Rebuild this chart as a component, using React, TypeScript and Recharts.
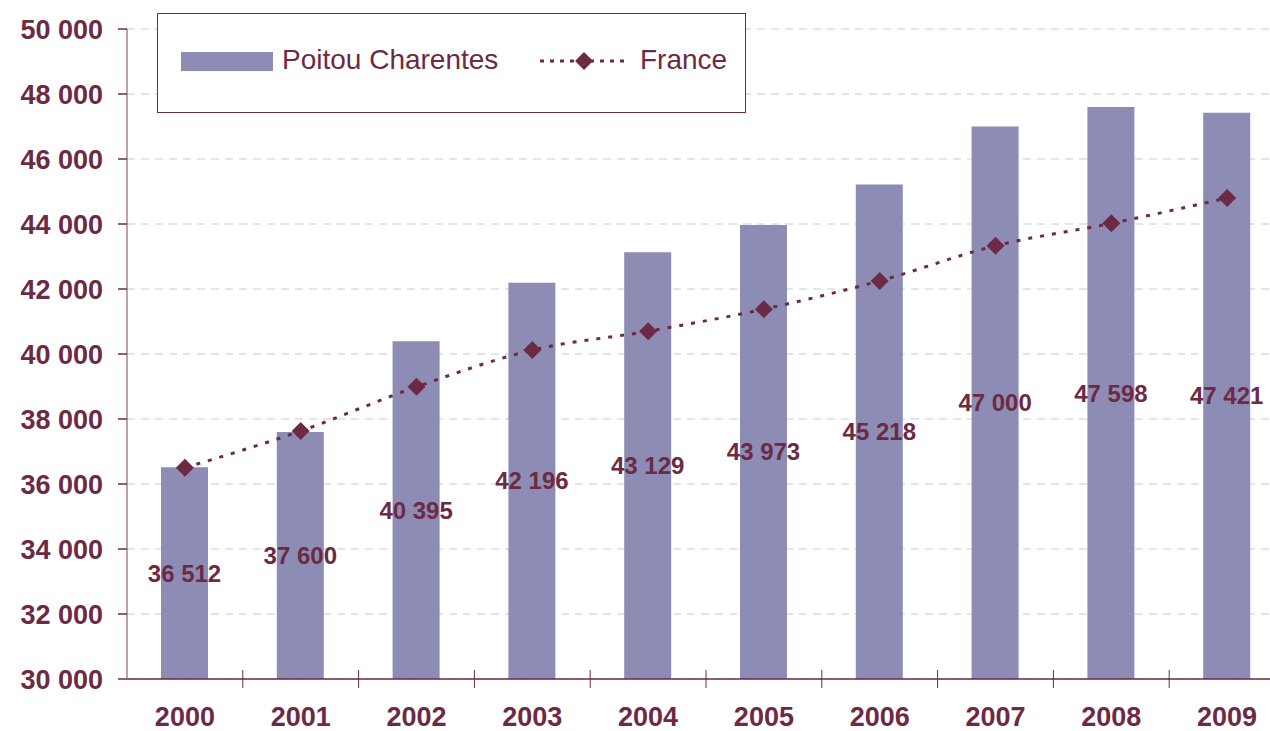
import { ComposedChart, Bar, Line, XAxis, YAxis, CartesianGrid, LabelList } from "recharts";

const years = ["2000", "2001", "2002", "2003", "2004", "2005", "2006", "2007", "2008", "2009"];
const poitou = [36512, 37600, 40395, 42196, 43129, 43973, 45218, 47000, 47598, 47421];
const france = [36500, 37630, 38990, 40120, 40700, 41380, 42250, 43330, 44020, 44800];
const yTicks = [30000, 32000, 34000, 36000, 38000, 40000, 42000, 44000, 46000, 48000, 50000];

const data = years.map((y, i) => ({ year: y, pc: poitou[i], fr: france[i] }));

const MAROON = "#6C2A45";
const BAR = "#8C8CB4";
const FONT = '"Liberation Sans", Arial, sans-serif';

const CHART_W = 1290;
const PLOT_LEFT = 127;
const PLOT_RIGHT = 1285;

function fmt(v: number) {
  return String(v).replace(/\B(?=(\d{3})+(?!\d))/g, " ");
}

function Diamond(props: any) {
  const { cx, cy, index } = props;
  if (cx == null || cy == null) return <g key={index} />;
  const r = 9;
  return (
    <path
      key={index}
      d={`M${cx},${cy - r} L${cx + r},${cy} L${cx},${cy + r} L${cx - r},${cy} Z`}
      fill={MAROON}
    />
  );
}

function XTick(props: any) {
  const { x, y, payload, index } = props;
  const half = (PLOT_RIGHT - PLOT_LEFT) / years.length / 2;
  const axisY = y - 28;
  return (
    <g>
      {index < years.length - 1 && (
        <line x1={x + half} x2={x + half} y1={axisY - 9} y2={axisY + 9} stroke={MAROON} strokeWidth={1} />
      )}
      <text x={x} y={y} dy="0.71em" textAnchor="middle" fill={MAROON} fontSize={27} fontWeight="bold" fontFamily={FONT}>
        {payload.value}
      </text>
    </g>
  );
}

function LegendBox() {
  return (
    <div
      style={{
        position: "absolute",
        left: 157,
        top: 13,
        width: 587,
        height: 98,
        border: `1px solid ${MAROON}`,
        background: "#fff",
        fontFamily: FONT,
        fontSize: 28,
        color: MAROON,
      }}
    >
      <div style={{ position: "absolute", left: 23, top: 38, width: 92, height: 19, background: BAR }} />
      <div style={{ position: "absolute", left: 124, top: 28, lineHeight: "36px" }}>Poitou Charentes</div>
      <svg style={{ position: "absolute", left: 380, top: 36 }} width={90} height={22}>
        <line x1={2} x2={88} y1={11} y2={11} stroke={MAROON} strokeWidth={3} strokeDasharray="4 6" />
        <path d="M46,2 L55,11 L46,20 L37,11 Z" fill={MAROON} />
      </svg>
      <div style={{ position: "absolute", left: 482, top: 28, lineHeight: "36px" }}>France</div>
    </div>
  );
}

export default function App() {
  return (
    <div
      style={{
        position: "fixed",
        left: 0,
        top: 0,
        width: 1270,
        height: 731,
        overflow: "hidden",
        background: "#fff",
      }}
    >
      <ComposedChart
        width={CHART_W}
        height={731}
        data={data}
        margin={{ top: 29, right: CHART_W - PLOT_RIGHT, bottom: 0, left: 0 }}
      >
        <CartesianGrid vertical={false} stroke="#DCDCE8" strokeDasharray="8 6" strokeWidth={1.5} />
        <XAxis
          dataKey="year"
          height={52}
          tickLine={false}
          tickSize={9}
          tickMargin={19}
          axisLine={{ stroke: MAROON, strokeWidth: 1.5 }}
          tick={<XTick />}
          interval={0}
        />
        <YAxis
          width={PLOT_LEFT}
          domain={[30000, 50000]}
          ticks={yTicks}
          interval={0}
          tickFormatter={fmt}
          tickSize={9}
          tickMargin={15}
          axisLine={{ stroke: "#A88292", strokeWidth: 1.5 }}
          tickLine={{ stroke: MAROON, strokeWidth: 1.5 }}
          tick={{ fill: MAROON, fontSize: 27, fontWeight: "bold", fontFamily: FONT }}
        />
        <Bar dataKey="pc" fill={BAR} barSize={47} isAnimationActive={false}>
          <LabelList
            dataKey="pc"
            position="center"
            formatter={(v: any) => fmt(Number(v))}
            fill={MAROON}
            fontSize={24}
            fontWeight="bold"
            fontFamily={FONT}
          />
        </Bar>
        <Line
          dataKey="fr"
          type="monotone"
          stroke={MAROON}
          strokeWidth={3}
          strokeDasharray="4 8"
          dot={Diamond}
          activeDot={false}
          isAnimationActive={false}
        />
      </ComposedChart>
      <LegendBox />
    </div>
  );
}
